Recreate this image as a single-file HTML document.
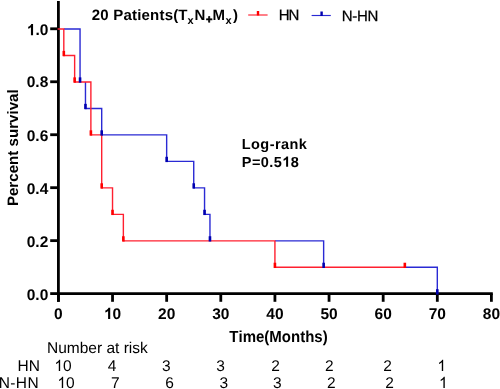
<!DOCTYPE html>
<html><head><meta charset="utf-8"><title>Kaplan-Meier survival curve</title><style>
html,body{margin:0;padding:0;background:#fff;overflow:hidden;}
svg{display:block;}
text{font-family:"Liberation Sans",sans-serif;fill:#000;font-kerning:none;white-space:pre;text-rendering:geometricPrecision;}
svg{will-change:transform;}
.b{font-weight:bold;}
.h{fill-opacity:0;}
</style></head><body>
<svg width="500" height="389" viewBox="0 0 500 389">
<rect width="500" height="389" fill="#fff"/>
<line x1="58.4" y1="1" x2="58.4" y2="301.8" stroke="#000" stroke-width="2.8"/>
<line x1="58.4" y1="293.6" x2="492.8" y2="293.6" stroke="#000" stroke-width="2.8"/>
<line x1="50.2" y1="293.60" x2="58.4" y2="293.60" stroke="#000" stroke-width="2.8"/>
<line x1="50.2" y1="240.64" x2="58.4" y2="240.64" stroke="#000" stroke-width="2.8"/>
<line x1="50.2" y1="187.68" x2="58.4" y2="187.68" stroke="#000" stroke-width="2.8"/>
<line x1="50.2" y1="134.72" x2="58.4" y2="134.72" stroke="#000" stroke-width="2.8"/>
<line x1="50.2" y1="81.76" x2="58.4" y2="81.76" stroke="#000" stroke-width="2.8"/>
<line x1="50.2" y1="28.80" x2="58.4" y2="28.80" stroke="#000" stroke-width="2.8"/>
<line x1="58.40" y1="293.6" x2="58.40" y2="301.8" stroke="#000" stroke-width="2.8"/>
<line x1="112.53" y1="293.6" x2="112.53" y2="301.8" stroke="#000" stroke-width="2.8"/>
<line x1="166.66" y1="293.6" x2="166.66" y2="301.8" stroke="#000" stroke-width="2.8"/>
<line x1="220.79" y1="293.6" x2="220.79" y2="301.8" stroke="#000" stroke-width="2.8"/>
<line x1="274.92" y1="293.6" x2="274.92" y2="301.8" stroke="#000" stroke-width="2.8"/>
<line x1="329.05" y1="293.6" x2="329.05" y2="301.8" stroke="#000" stroke-width="2.8"/>
<line x1="383.18" y1="293.6" x2="383.18" y2="301.8" stroke="#000" stroke-width="2.8"/>
<line x1="437.31" y1="293.6" x2="437.31" y2="301.8" stroke="#000" stroke-width="2.8"/>
<line x1="491.40" y1="293.6" x2="491.40" y2="301.8" stroke="#000" stroke-width="2.8"/>
<path d="M63.81,29.00 H80.05 V81.96 M85.47,81.96 V108.44 H101.70 V134.92 H166.66 V161.40 H193.73 V187.88 H204.55 V214.36 H209.96 V240.84 M274.92,240.84 H323.64 V267.32 M404.83,267.32 H437.31 V293.80" fill="none" stroke="#2a2ad4" stroke-width="1.4"/>
<path d="M57.60,29.00 H63.81 V55.48 H74.64 V81.96 H90.88 V134.92 H101.70 V187.88 H112.53 V214.36 H123.36 V240.84 H274.92 V267.32 H404.83" fill="none" stroke="#ff2030" stroke-width="1.4"/>
<rect x="78.75" y="77.36" width="2.6" height="5.30" fill="#0000b0"/><rect x="84.17" y="103.84" width="2.6" height="5.30" fill="#0000b0"/><rect x="100.40" y="130.32" width="2.6" height="5.30" fill="#0000b0"/><rect x="165.36" y="156.80" width="2.6" height="5.30" fill="#0000b0"/><rect x="192.43" y="183.28" width="2.6" height="5.30" fill="#0000b0"/><rect x="203.25" y="209.76" width="2.6" height="5.30" fill="#0000b0"/><rect x="208.66" y="236.24" width="2.6" height="5.30" fill="#0000b0"/><rect x="322.34" y="262.72" width="2.6" height="5.30" fill="#0000b0"/><rect x="436.01" y="289.20" width="2.6" height="5.30" fill="#0000b0"/>
<rect x="62.51" y="50.88" width="2.6" height="5.30" fill="#ff0000"/><rect x="73.34" y="77.36" width="2.6" height="5.30" fill="#ff0000"/><rect x="89.58" y="130.32" width="2.6" height="5.30" fill="#ff0000"/><rect x="100.40" y="183.28" width="2.6" height="5.30" fill="#ff0000"/><rect x="111.23" y="209.76" width="2.6" height="5.30" fill="#ff0000"/><rect x="122.06" y="236.24" width="2.6" height="5.30" fill="#ff0000"/><rect x="273.62" y="262.72" width="2.6" height="5.30" fill="#ff0000"/><rect x="403.53" y="262.72" width="2.6" height="5.30" fill="#ff0000"/>
<g id="t_y0" transform="translate(26.75,299.50) scale(1,1.0)"><text x="0" y="0" class="b" style="font-size:15.5px;letter-spacing:0px">0.0</text></g>
<g id="t_y1" transform="translate(26.75,246.74) scale(1,1.0)"><text x="0" y="0" class="b" style="font-size:15.5px;letter-spacing:0px">0.2</text></g>
<g id="t_y2" transform="translate(26.75,193.78) scale(1,1.0)"><text x="0" y="0" class="b" style="font-size:15.5px;letter-spacing:0px">0.4</text></g>
<g id="t_y3" transform="translate(26.75,140.52) scale(1,1.0)"><text x="0" y="0" class="b" style="font-size:15.5px;letter-spacing:0px">0.6</text></g>
<g id="t_y4" transform="translate(26.75,87.36) scale(1,1.0)"><text x="0" y="0" class="b" style="font-size:15.5px;letter-spacing:0px">0.8</text></g>
<g id="t_y5" transform="translate(26.75,35.20) scale(1,1.0)"><text x="0" y="0" class="b" style="font-size:15.5px;letter-spacing:0px"><tspan class="h">1</tspan>.0</text><path d="M834,0 L553,0 L553,1059 Q399,915 190,846 L190,1101 Q300,1137 429,1237 Q557,1336 605,1466 L834,1466 Z" transform="translate(0.00,0) scale(0.00757,-0.00757)"/></g>
<g id="t_x0" transform="translate(54.09,318.90) scale(1,1.0)"><text x="0" y="0" class="b" style="font-size:15.5px;letter-spacing:0px">0</text></g>
<g id="t_x1" transform="translate(103.91,318.90) scale(1,1.0)"><text x="0" y="0" class="b" style="font-size:15.5px;letter-spacing:0px"><tspan class="h">1</tspan>0</text><path d="M834,0 L553,0 L553,1059 Q399,915 190,846 L190,1101 Q300,1137 429,1237 Q557,1336 605,1466 L834,1466 Z" transform="translate(0.00,0) scale(0.00757,-0.00757)"/></g>
<g id="t_x2" transform="translate(158.04,318.90) scale(1,1.0)"><text x="0" y="0" class="b" style="font-size:15.5px;letter-spacing:0px">20</text></g>
<g id="t_x3" transform="translate(212.17,318.90) scale(1,1.0)"><text x="0" y="0" class="b" style="font-size:15.5px;letter-spacing:0px">30</text></g>
<g id="t_x4" transform="translate(266.30,318.90) scale(1,1.0)"><text x="0" y="0" class="b" style="font-size:15.5px;letter-spacing:0px">40</text></g>
<g id="t_x5" transform="translate(320.43,318.90) scale(1,1.0)"><text x="0" y="0" class="b" style="font-size:15.5px;letter-spacing:0px">50</text></g>
<g id="t_x6" transform="translate(374.56,318.90) scale(1,1.0)"><text x="0" y="0" class="b" style="font-size:15.5px;letter-spacing:0px">60</text></g>
<g id="t_x7" transform="translate(428.69,318.90) scale(1,1.0)"><text x="0" y="0" class="b" style="font-size:15.5px;letter-spacing:0px">70</text></g>
<g id="t_x8" transform="translate(482.78,318.90) scale(1,1.0)"><text x="0" y="0" class="b" style="font-size:15.5px;letter-spacing:0px">80</text></g>
<g id="t_time" transform="translate(229.34,342.00) scale(1,1.07)"><text x="0" y="0" class="b" style="font-size:15px;letter-spacing:0px">Time(Months)</text></g>
<g id="t_logrank" transform="translate(241.80,149.40) scale(1,1)"><text x="0" y="0" class="b" style="font-size:14.5px;letter-spacing:0.43px">Log-rank</text></g>
<g id="t_pval" transform="translate(241.80,166.80) scale(1,1)"><text x="0" y="0" class="b" style="font-size:14.5px;letter-spacing:0.42px">P=0.5<tspan class="h">1</tspan>8</text><path d="M834,0 L553,0 L553,1059 Q399,915 190,846 L190,1101 Q300,1137 429,1237 Q557,1336 605,1466 L834,1466 Z" transform="translate(40.40,0) scale(0.00708,-0.00708)"/></g>
<g id="t_num" transform="translate(47.00,353.30) scale(1,1)"><text x="0" y="0" class="r" style="font-size:15.5px;letter-spacing:0px">Number at risk</text></g>
<g id="t_hn" transform="translate(17.61,371.00) scale(1,1)"><text x="0" y="0" class="r" style="font-size:15.5px;letter-spacing:0px">HN</text></g>
<g id="t_nhn" transform="translate(-1.19,387.90) scale(1,1)"><text x="0" y="0" class="r" style="font-size:15.5px;letter-spacing:0.35px">N-HN</text></g>
<g id="t_leg_hn" transform="translate(278.80,19.55) scale(1,1)"><text x="0" y="0" class="r" style="font-size:15px;letter-spacing:-1.15px;stroke:#000;stroke-width:0.25px">HN</text></g>
<g id="t_leg_nhn" transform="translate(341.80,20.55) scale(1,1)"><text x="0" y="0" class="r" style="font-size:15px;letter-spacing:-0.3px;stroke:#000;stroke-width:0.25px">N-HN</text></g>
<g id="t_ytitle" transform="translate(17.80,147.70) rotate(-90) translate(-58.41,0) scale(1,1)"><text x="0" y="0" class="b" style="font-size:15.12px;letter-spacing:0px">Percent survival</text></g>
<g id="t_r00" transform="translate(54.38,371.00) scale(1,1.0)"><text x="0" y="0" class="r" style="font-size:15.5px;letter-spacing:0px"><tspan class="h">1</tspan>0</text><path d="M763,0 L583,0 L583,1147 Q518,1085 412,1023 Q306,961 221,930 L221,1104 Q372,1175 485,1276 Q598,1377 645,1472 L763,1472 Z" transform="translate(0.00,0) scale(0.00757,-0.00757)"/></g>
<g id="t_r01" transform="translate(107.69,371.00) scale(1,1.0)"><text x="0" y="0" class="r" style="font-size:15.5px;letter-spacing:0px">4</text></g>
<g id="t_r02" transform="translate(162.09,371.00) scale(1,1.0)"><text x="0" y="0" class="r" style="font-size:15.5px;letter-spacing:0px">3</text></g>
<g id="t_r03" transform="translate(216.19,371.00) scale(1,1.0)"><text x="0" y="0" class="r" style="font-size:15.5px;letter-spacing:0px">3</text></g>
<g id="t_r04" transform="translate(271.19,371.00) scale(1,1.0)"><text x="0" y="0" class="r" style="font-size:15.5px;letter-spacing:0px">2</text></g>
<g id="t_r05" transform="translate(324.99,371.00) scale(1,1.0)"><text x="0" y="0" class="r" style="font-size:15.5px;letter-spacing:0px">2</text></g>
<g id="t_r06" transform="translate(383.19,371.00) scale(1,1.0)"><text x="0" y="0" class="r" style="font-size:15.5px;letter-spacing:0px">2</text></g>
<g id="t_r07" transform="translate(437.39,371.00) scale(1,1.0)"><text x="0" y="0" class="r" style="font-size:15.5px;letter-spacing:0px"><tspan class="h">1</tspan></text><path d="M763,0 L583,0 L583,1147 Q518,1085 412,1023 Q306,961 221,930 L221,1104 Q372,1175 485,1276 Q598,1377 645,1472 L763,1472 Z" transform="translate(0.00,0) scale(0.00757,-0.00757)"/></g>
<g id="t_r10" transform="translate(57.38,388.00) scale(1,1.0)"><text x="0" y="0" class="r" style="font-size:15.5px;letter-spacing:0px"><tspan class="h">1</tspan>0</text><path d="M763,0 L583,0 L583,1147 Q518,1085 412,1023 Q306,961 221,930 L221,1104 Q372,1175 485,1276 Q598,1377 645,1472 L763,1472 Z" transform="translate(0.00,0) scale(0.00757,-0.00757)"/></g>
<g id="t_r11" transform="translate(110.89,388.00) scale(1,1.0)"><text x="0" y="0" class="r" style="font-size:15.5px;letter-spacing:0px">7</text></g>
<g id="t_r12" transform="translate(165.29,388.00) scale(1,1.0)"><text x="0" y="0" class="r" style="font-size:15.5px;letter-spacing:0px">6</text></g>
<g id="t_r13" transform="translate(219.39,388.00) scale(1,1.0)"><text x="0" y="0" class="r" style="font-size:15.5px;letter-spacing:0px">3</text></g>
<g id="t_r14" transform="translate(273.09,388.00) scale(1,1.0)"><text x="0" y="0" class="r" style="font-size:15.5px;letter-spacing:0px">3</text></g>
<g id="t_r15" transform="translate(326.89,388.00) scale(1,1.0)"><text x="0" y="0" class="r" style="font-size:15.5px;letter-spacing:0px">2</text></g>
<g id="t_r16" transform="translate(385.29,388.00) scale(1,1.0)"><text x="0" y="0" class="r" style="font-size:15.5px;letter-spacing:0px">2</text></g>
<g id="t_r17" transform="translate(438.99,388.00) scale(1,1.0)"><text x="0" y="0" class="r" style="font-size:15.5px;letter-spacing:0px"><tspan class="h">1</tspan></text><path d="M763,0 L583,0 L583,1147 Q518,1085 412,1023 Q306,961 221,930 L221,1104 Q372,1175 485,1276 Q598,1377 645,1472 L763,1472 Z" transform="translate(0.00,0) scale(0.00757,-0.00757)"/></g>
<g id="t_leg"><text x="0" y="0" class="b" style="font-size:15px;letter-spacing:0.2px"><tspan x="91.78" y="19.70">20 Patients(</tspan><tspan x="178.23" y="19.70">T</tspan><tspan x="187.52" y="23.50" style="font-size:11px">x</tspan><tspan x="194.60" y="19.70">N</tspan><tspan x="205.94" y="22.90" style="font-size:11px;stroke:#000;stroke-width:0.7px">+</tspan><tspan x="212.40" y="19.70">M</tspan><tspan x="225.42" y="23.50" style="font-size:11px">x</tspan><tspan x="232.99" y="19.70">)</tspan></text></g>
<line x1="248.2" y1="15" x2="267.6" y2="15" stroke="#ff2030" stroke-width="1.15"/>
<rect x="256.80" y="11.00" width="2.4" height="4.5" fill="#ff0000"/>
<line x1="311.6" y1="15.5" x2="330.8" y2="15.5" stroke="#2a2ad4" stroke-width="1.15"/>
<rect x="320.40" y="11.50" width="2.4" height="4.5" fill="#0000b0"/>
</svg>
</body></html>
